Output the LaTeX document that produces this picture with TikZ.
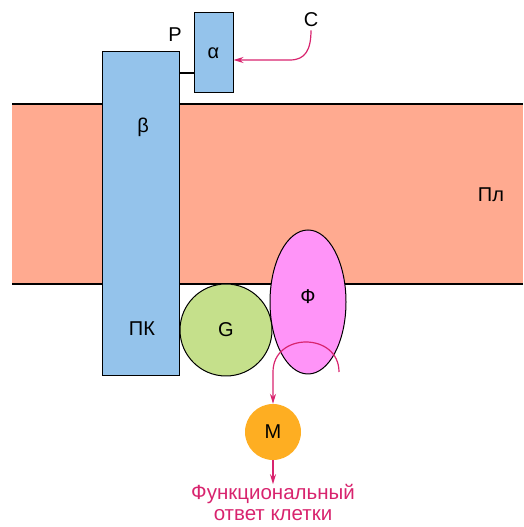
\documentclass[tikz,border=0pt]{standalone}
\usepackage{fontspec}
\setmainfont{Liberation Sans}
\usetikzlibrary{shapes.geometric, arrows.meta, positioning, calc}

\definecolor{boxblue}{HTML}{94C3EB}
\definecolor{membrane}{HTML}{FFAA90}
\definecolor{ggreen}{HTML}{C5E08B}
\definecolor{fpink}{HTML}{FF94F8}
\definecolor{morange}{HTML}{FEAE22}
\definecolor{signal}{HTML}{D8246E}

\begin{document}
\begin{tikzpicture}[
    x=1pt, y=1pt,
    font=\fontsize{20}{22}\selectfont,
    subunit/.style={rectangle, draw, line width=1pt, fill=boxblue, inner sep=0pt},
    protein/.style={draw, line width=1pt, inner sep=0pt},
    label/.style={inner sep=0pt},
    arrow/.style={line width=1.2pt, draw=signal, -{Stealth[length=10pt, width=6pt]}}
]
    \useasboundingbox (0,0) rectangle (523,527);

    % membrane
    \fill [membrane] (12,243) rectangle (523,423);
    \draw [line width=1.2pt] (12,423) -- (523,423);
    \draw [line width=1.2pt] (12,243) -- (523,243);
    \node [label] (pl) at (491,332) {Пл};

    % receptor subunits
    \node [subunit, minimum width=77, minimum height=324] (beta) at (140.5,313) {};
    \node [subunit, minimum width=39, minimum height=80] (alpha) at (213.5,474) {α};
    \node [label] at (143,400) {β};
    \node [label] at (142,198) {ПК};
    \node [label] (p) at (175,492) {P};
    \draw [line width=1.2pt] (beta.east |- 0,454) -- (alpha.west |- 0,454);

    % ligand
    \node [label] (c) at (311,507) {C};
    \draw [arrow] (c.south) ++(0,-3) .. controls +(0,-20) and +(15,0) .. (290,467) -- (alpha.east |- 0,467);

    % G protein and effector
    \node [protein, circle, fill=ggreen, minimum size=92] (g) at (226,197) {G};
    \node [protein, ellipse, fill=fpink, minimum width=76, minimum height=144] (phi) at (308,225) {};
    \node [label] at (308,230) {Ф};

    % messenger
    \node [circle, fill=morange, minimum size=56, inner sep=0pt] (m) at (273,95) {M};
    \coordinate (fstart) at (339,155);
    \draw [arrow] (fstart) .. controls (339,195) and (273,195) .. (273,155) -- (m.north);

    % response
    \node [label, text=signal, align=center, below=24 of m, font=\fontsize{20.5}{20.5}\selectfont] (resp) {Функциональный\\ответ клетки};
    \draw [arrow] (m.south) -- (resp.north);
\end{tikzpicture}
\end{document}
